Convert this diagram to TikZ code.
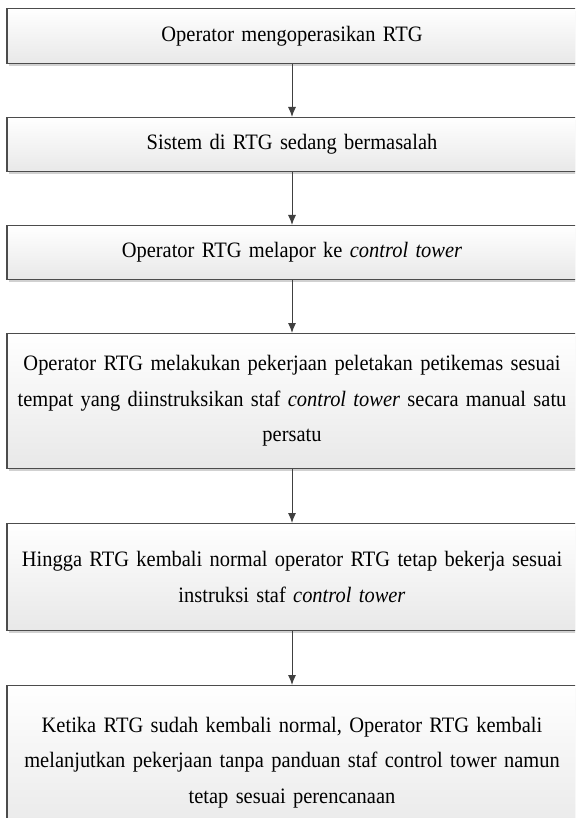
\documentclass[tikz,border=0pt]{standalone}
\usepackage{fontspec}
\setmainfont{Liberation Serif}[FakeStretch=0.93,WordSpace=0.65]
\usepackage{tikz}
\usetikzlibrary{arrows.meta,positioning,shadows}

\begin{document}
\begin{tikzpicture}[x=1pt,y=-1pt,>={Latex[length=10pt,width=8pt]},
  proc/.style={draw=black!70,line width=1.2pt,top color=white,bottom color=black!9,
    drop shadow={shadow xshift=1.5pt,shadow yshift=-2.5pt,fill=black!18,opacity=1},
    minimum width=570pt,text width=566pt,align=center,anchor=north,
    inner xsep=2pt,inner ysep=0pt,font=\fontsize{22}{35.5}\selectfont},
  link/.style={->,draw=black!75,line width=1pt}]
\clip (0,0) rectangle (575,818);
\node[proc,minimum height=55pt] (a) at (292,8) {Operator mengoperasikan RTG};
\node[proc,minimum height=54pt] (b) at (292,117) {Sistem di RTG sedang bermasalah};
\node[proc,minimum height=54pt] (c) at (292,225) {Operator RTG melapor ke \textit{control tower}};
\node[proc,minimum height=135pt] (d) at (292,333)
 {Operator RTG melakukan pekerjaan peletakan petikemas sesuai\\
  tempat yang diinstruksikan staf \textit{control tower} secara manual satu\\persatu};
\node[proc,minimum height=107pt] (e) at (292,523)
 {Hingga RTG kembali normal operator RTG tetap bekerja sesuai\\
  instruksi staf \textit{control tower}};
\node[proc,minimum height=154pt] (f) at (292,685)
 {Ketika RTG sudah kembali normal, Operator RTG kembali\\
  melanjutkan pekerjaan tanpa panduan staf control tower namun\\
  tetap sesuai perencanaan};
\draw[link] (a) -- (b);
\draw[link] (b) -- (c);
\draw[link] (c) -- (d);
\draw[link] (d) -- (e);
\draw[link] (e) -- (f);
\end{tikzpicture}
\end{document}
